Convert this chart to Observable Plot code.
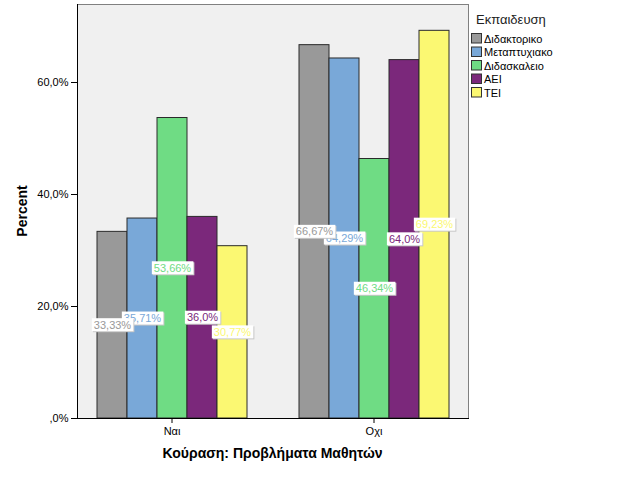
<!DOCTYPE html>
<html>
<head>
<meta charset="utf-8">
<script src="https://cdn.jsdelivr.net/npm/d3@7"></script>
<script src="https://cdn.jsdelivr.net/npm/@observablehq/plot@0.6"></script>
<style>
  html, body { margin: 0; padding: 0; background: white; }
  svg { display: block; }
</style>
</head>
<body>
<script>
const categories = ["Ναι", "Οχι"];
const series = ["Διδακτορικο", "Μεταπτυχιακο", "Διδασκαλειο", "ΑΕΙ", "ΤΕΙ"];
const valuesNai = [33.33, 35.71, 53.66, 36.0, 30.77];
const valuesOxi = [66.67, 64.29, 46.34, 64.0, 69.23];
const colors = ["#999999", "#79a8d8", "#6fdc84", "#7b287b", "#fbf872"];
const yTicks = [0, 20, 40, 60];
const yTickLabels = [",0%", "20,0%", "40,0%", "60,0%"];
const xTitle = "Κούραση: Προβλήματα Μαθητών";
const yTitle = "Percent";
const legendTitle = "Εκπαιδευση";

const data = [];
categories.forEach((c, ci) => {
  const vals = ci === 0 ? valuesNai : valuesOxi;
  series.forEach((s, si) => data.push({cat: c, series: s, value: vals[si]}));
});
const fmt = v => (Number.isInteger(v) ? v.toFixed(1) : v.toFixed(2)).replace(".", ",") + "%";

const W = 626, H = 501;
const mL = 77, mR = 158, mT = 4, mB = 83;

const chart = Plot.plot({
  width: W, height: H,
  marginLeft: mL, marginRight: mR, marginTop: mT, marginBottom: mB,
  style: {fontFamily: "'Liberation Sans', Arial, sans-serif", fontSize: "11px", color: "black", background: "transparent"},
  fx: {domain: categories, paddingInner: 0.0644, paddingOuter: 0, label: null, axis: "bottom", tickSize: 5, tickPadding: 4},
  x: {domain: series, paddingInner: 0, paddingOuter: 0.65, axis: null},
  y: {domain: [0, 73.93], ticks: yTicks, tickFormat: d => yTickLabels[yTicks.indexOf(d)], label: null, tickSize: 6, tickPadding: 3},
  color: {domain: series, range: colors},
  marks: [
    Plot.barY(data, {fx: "cat", x: "series", y: "value", fill: "series", stroke: "#2a2a2a", strokeWidth: 1}),
    Plot.text(data.slice().reverse(), {fx: "cat", x: "series", y: d => d.value / 2, text: d => fmt(d.value), fill: "series", fontSize: 11})
  ]
});
document.body.append(chart);

const svg = d3.select(chart);
const pw = W - mL - mR, ph = H - mT - mB;
// plot background
svg.insert("rect", "g").attr("x", mL).attr("y", mT).attr("width", pw).attr("height", ph).attr("fill", "#f0f0f0");

// label boxes
svg.selectAll('g[aria-label="text"] text').each(function() {
  const b = this.getBBox();
  const tr = this.getAttribute("transform");
  const p = this.parentNode;
  const mk = (dx, fill) => {
    const r = document.createElementNS("http://www.w3.org/2000/svg", "rect");
    r.setAttribute("x", b.x - 2 + dx); r.setAttribute("y", b.y - 0.5 + dx);
    r.setAttribute("width", b.width + 4); r.setAttribute("height", b.height + 1);
    r.setAttribute("fill", fill);
    r.setAttribute("stroke", "none");
    if (tr) r.setAttribute("transform", tr);
    p.insertBefore(r, this);
  };
  mk(1, "#c8c8c8");
  mk(0, "white");
});

// frame
const fr = svg.append("g").attr("fill", "none");
fr.append("line").attr("x1", mL).attr("x2", mL + pw + 0.5).attr("y1", mT + 0.5).attr("y2", mT + 0.5).attr("stroke", "#808080");
fr.append("line").attr("x1", mL + pw + 0.5).attr("x2", mL + pw + 0.5).attr("y1", mT).attr("y2", mT + ph).attr("stroke", "#808080");
fr.append("line").attr("x1", mL + 0.5).attr("x2", mL + 0.5).attr("y1", mT).attr("y2", mT + ph).attr("stroke", "black");
fr.append("line").attr("x1", mL).attr("x2", mL + pw + 1).attr("y1", mT + ph + 0.5).attr("y2", mT + ph + 0.5).attr("stroke", "black");

// axis titles
const font = "'Liberation Sans', Arial, sans-serif";
svg.append("text").text(yTitle).attr("transform", `translate(22,${mT + ph / 2}) rotate(-90)`)
  .attr("text-anchor", "middle").attr("dy", "0.35em").attr("font-weight", "bold").attr("font-size", 14).attr("font-family", font);
svg.append("text").text(xTitle).attr("x", mL + pw / 2).attr("y", 458)
  .attr("text-anchor", "middle").attr("font-weight", "bold").attr("font-size", 14).attr("font-family", font);

// legend
const lg = svg.append("g").attr("font-family", font).attr("text-anchor", "start");
lg.append("text").text(legendTitle).attr("x", 476).attr("y", 24).attr("font-size", 13).attr("fill", "#222");
series.forEach((s, i) => {
  const y0 = 33.5 + i * 13.5;
  lg.append("rect").attr("x", 471.5).attr("y", y0).attr("width", 10).attr("height", 9.5)
    .attr("fill", colors[i]).attr("stroke", "#333");
  lg.append("text").text(s).attr("x", 484).attr("y", y0 + 9).attr("font-size", 11).attr("fill", "black");
});
</script>
</body>
</html>
